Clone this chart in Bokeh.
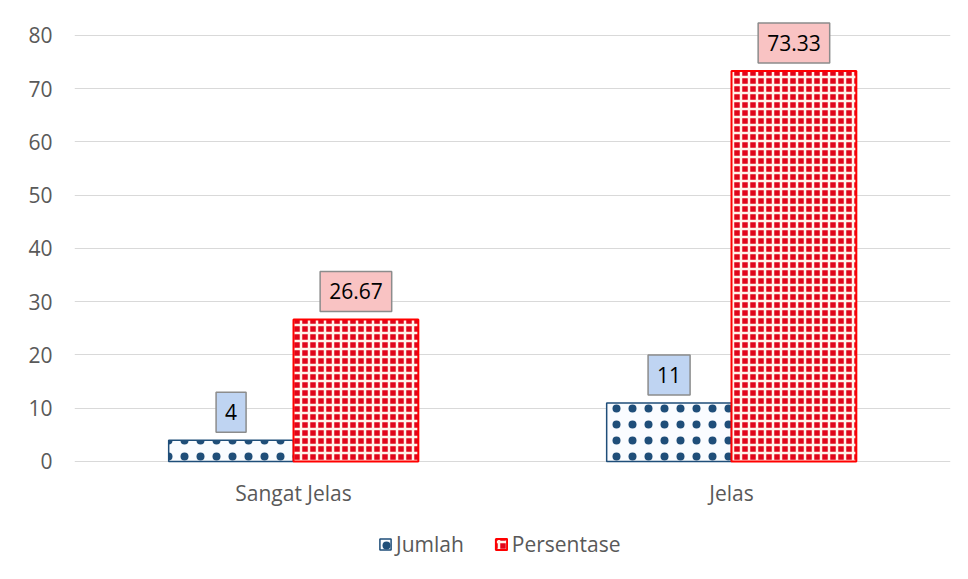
import numpy as np
from bokeh.plotting import figure
from bokeh.models import ColumnDataSource, Label, Legend, LegendItem, FixedTicker, Range1d
from bokeh.core.properties import value
from bokeh.embed import file_html
from bokeh.resources import INLINE

categories = ["Sangat Jelas", "Jelas"]
jumlah = [4, 11]
persentase = [26.67, 73.33]
jumlah_labels = ["4", "11"]
persentase_labels = ["26.67", "73.33"]
y_ticks = [0, 10, 20, 30, 40, 50, 60, 70, 80]

idx = np.arange(len(categories))
bw = 0.285
src = ColumnDataSource(dict(xj=idx - bw / 2, xp=idx + bw / 2, jumlah=jumlah, persentase=persentase))
cat_src = ColumnDataSource(dict(x=idx, y=np.zeros(len(idx)), text=categories))

px_per_unit = 5.325
p = figure(width=968, height=579, output_backend="svg", toolbar_location=None,
           x_range=Range1d(-0.5, 1.5), y_range=Range1d(-(579 - 461) / px_per_unit, 83),
           min_border_left=74, min_border_right=18, min_border_top=19, min_border_bottom=0)
p.outline_line_color = None
p.background_fill_color = "white"
p.border_fill_color = "white"

rj = p.vbar(x="xj", top="jumlah", width=bw, source=src, fill_color="#FAFCFF",
            hatch_pattern="dot", hatch_color="#1F4E79", hatch_scale=16,
            line_color="#1F4E79", line_width=1.5)
rp = p.vbar(x="xp", top="persentase", width=bw, source=src, fill_color="#E0061A",
            hatch_pattern="cross", hatch_color="#FFF4EA", hatch_scale=8, hatch_weight=2.5,
            line_color="#FF0000", line_width=2)

font = "Open Sans"
fs = "21px"
p.yaxis.ticker = FixedTicker(ticks=y_ticks)
p.yaxis.axis_line_color = None
p.yaxis.major_tick_line_color = None
p.yaxis.minor_tick_line_color = None
p.yaxis.major_tick_out = 0
p.yaxis.major_label_standoff = 22
p.yaxis.major_label_text_font = font
p.yaxis.major_label_text_font_size = fs
p.yaxis.major_label_text_color = "#595959"

p.xaxis.visible = False
p.xgrid.grid_line_color = None
p.ygrid.ticker = FixedTicker(ticks=y_ticks)
p.ygrid.grid_line_color = "#D9D9D9"
p.ygrid.grid_line_width = 1

# category labels under the baseline
p.text(x="x", y="y", text="text", source=cat_src, text_align="center",
       text_baseline="alphabetic", y_offset=32, text_font=value(font),
       text_font_size=fs, text_color="#595959")

for xs, vals, labs, bg in ((idx - bw / 2, jumlah, jumlah_labels, "#BFD4F2"),
                           (idx + bw / 2, persentase, persentase_labels, "#F9C3C3")):
    for xv, v, t in zip(xs, vals, labs):
        p.add_layout(Label(x=float(xv), y=v, text=t, text_align="center", text_baseline="bottom",
                           y_offset=8, text_font=font, text_font_size=fs, text_color="black",
                           background_fill_color=bg, border_line_color="#8C8C8C",
                           border_line_width=1.5,
                           padding=dict(left=9, right=9, top=12, bottom=12)))

legend = Legend(items=[LegendItem(label="Jumlah", renderers=[rj]),
                       LegendItem(label="Persentase", renderers=[rp])],
                orientation="horizontal", location=(304, 21),
                padding=0, margin=0, spacing=30, label_standoff=4,
                glyph_width=14, glyph_height=14,
                label_text_font=font, label_text_font_size=fs, label_text_color="#595959",
                border_line_color=None, background_fill_alpha=0)
p.add_layout(legend, "center")

open("out.html", "w").write(file_html(p, INLINE))
